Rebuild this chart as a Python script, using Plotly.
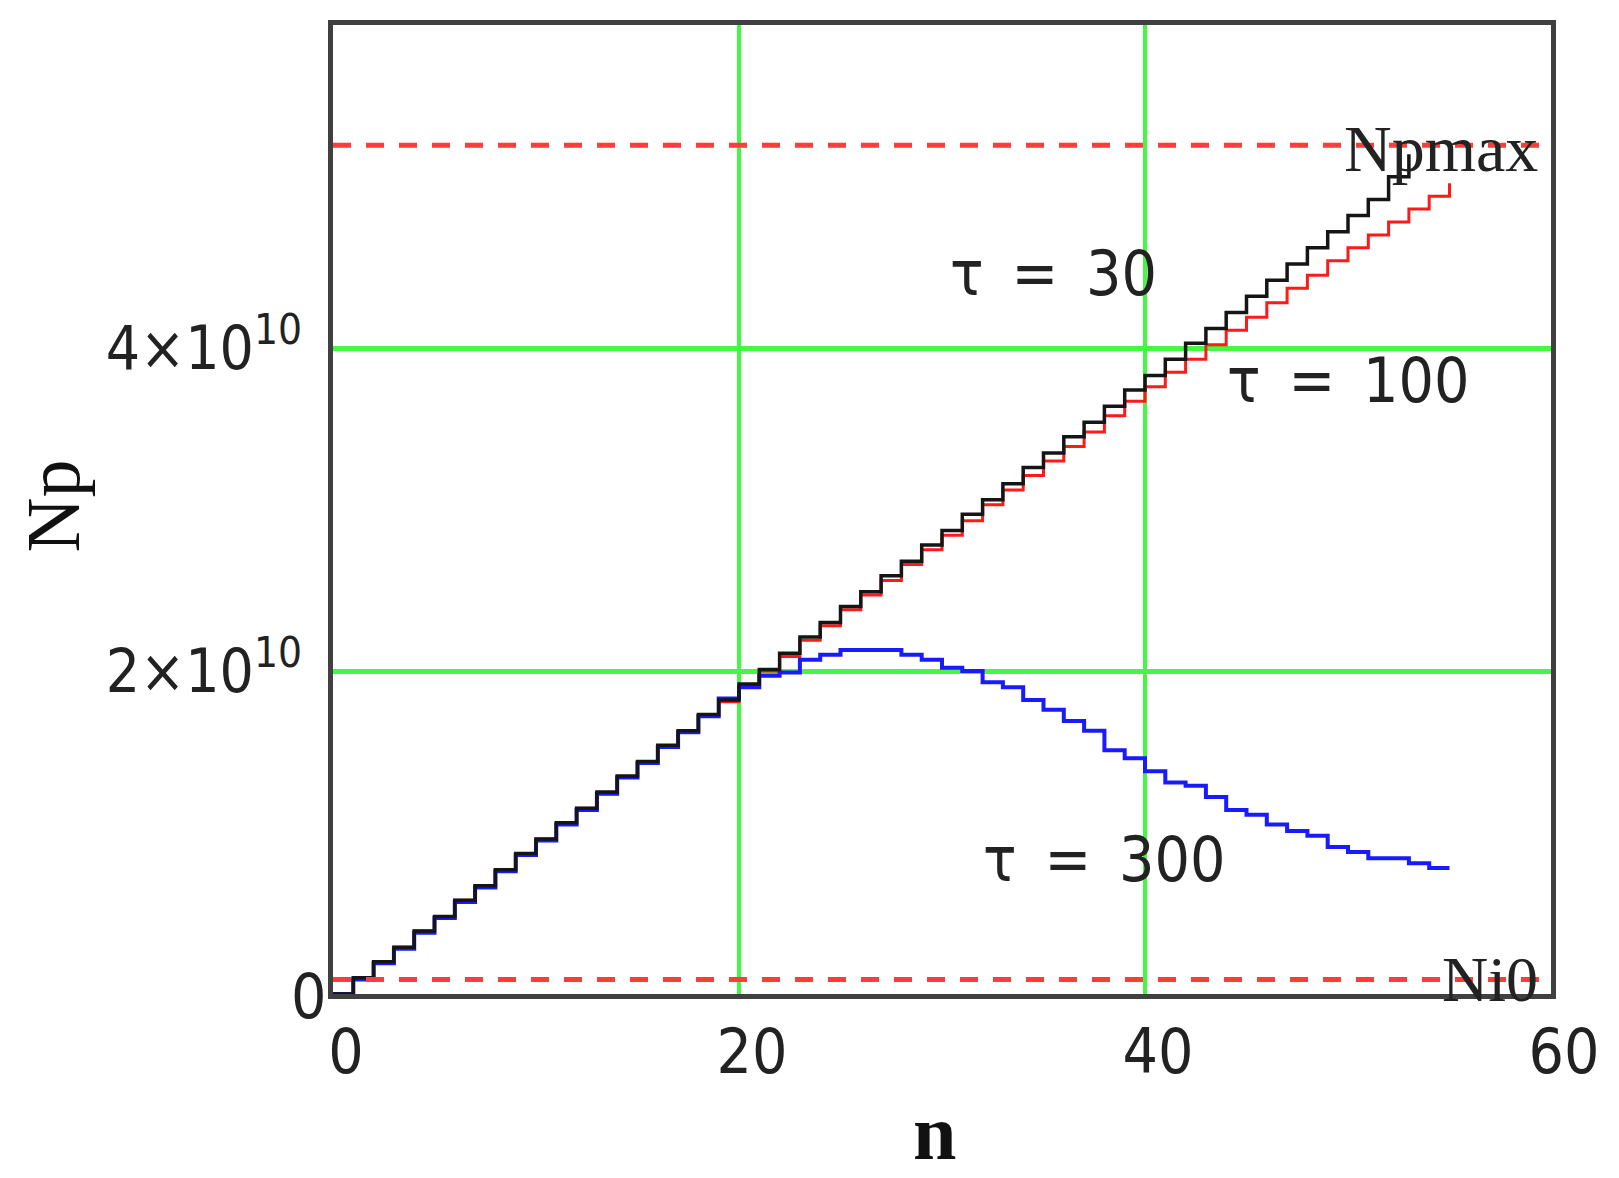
import plotly.graph_objects as go

# ---- data (values in units of 1e10) ----
n_tau30 = list(range(0, 54))
np_tau30 = [0.00, 0.10, 0.20, 0.29, 0.39, 0.48, 0.58, 0.67, 0.77, 0.87,
            0.96, 1.06, 1.15, 1.25, 1.35, 1.44, 1.54, 1.63, 1.73, 1.82,
            1.92, 2.01, 2.11, 2.21, 2.30, 2.40, 2.49, 2.59, 2.68, 2.78,
            2.87, 2.97, 3.06, 3.16, 3.26, 3.35, 3.45, 3.54, 3.64, 3.74,
            3.83, 3.93, 4.03, 4.12, 4.22, 4.32, 4.42, 4.52, 4.62, 4.72,
            4.82, 4.92, 5.06, 5.20]

n_tau100 = list(range(0, 56))
np_tau100 = [0.00, 0.10, 0.20, 0.29, 0.39, 0.48, 0.58, 0.67, 0.77, 0.86,
             0.96, 1.05, 1.15, 1.24, 1.34, 1.43, 1.53, 1.62, 1.72, 1.81,
             1.91, 2.00, 2.09, 2.19, 2.28, 2.38, 2.47, 2.56, 2.66, 2.75,
             2.84, 2.93, 3.03, 3.12, 3.21, 3.30, 3.39, 3.48, 3.58, 3.67,
             3.76, 3.85, 3.93, 4.02, 4.11, 4.19, 4.28, 4.37, 4.45, 4.54,
             4.62, 4.70, 4.78, 4.86, 4.94, 5.02]

n_tau300 = list(range(0, 56))
np_tau300 = [0.00, 0.09, 0.19, 0.28, 0.38, 0.47, 0.57, 0.66, 0.76, 0.86,
             0.95, 1.05, 1.14, 1.24, 1.34, 1.43, 1.53, 1.62, 1.72, 1.83,
             1.90, 1.97, 1.99, 2.07, 2.10, 2.13, 2.13, 2.13, 2.10, 2.07,
             2.02, 2.00, 1.93, 1.90, 1.82, 1.76, 1.69, 1.63, 1.51, 1.46,
             1.38, 1.31, 1.29, 1.22, 1.14, 1.11, 1.05, 1.01, 0.98, 0.91,
             0.88, 0.84, 0.84, 0.81, 0.78, 0.78]

Np_max = 5.255   # upper reference level (1e10)
Ni0 = 0.09       # lower reference level (1e10)
SCALE = 1e10

x_ticks = [0, 20, 40, 60]
x_tick_text = ["0", "20", "40", "60"]
y_ticks = [2, 4]
y_tick_text = ["2×10<sup>10</sup>", "4×10<sup>10</sup>"]
y_zero_label = "0"

tau_labels = ["τ\u2002=\u200230", "τ\u2002=\u2002100", "τ\u2002=\u2002300"]

GREEN = "#45f745"
SERIF = "Liberation Serif, Times New Roman, serif"
NARROW = "Liberation Sans Narrow, Arial Narrow, DejaVu Sans Condensed, sans-serif"

fig = go.Figure()
fig.add_trace(go.Scatter(x=n_tau100, y=[v * SCALE for v in np_tau100], mode="lines",
                         line=dict(color="#ff1a1a", width=3, shape="hv"), name="τ=100"))
fig.add_trace(go.Scatter(x=n_tau300, y=[v * SCALE for v in np_tau300], mode="lines",
                         line=dict(color="#1a1aff", width=4, shape="hv"), name="τ=300"))
fig.add_trace(go.Scatter(x=n_tau30, y=[v * SCALE for v in np_tau30], mode="lines",
                         line=dict(color="#151515", width=3.5, shape="hv"), name="τ=30"))

for lvl in (Np_max, Ni0):
    fig.add_shape(type="line", xref="x", yref="y", x0=0, x1=60,
                  y0=lvl * SCALE, y1=lvl * SCALE,
                  line=dict(color="#ff3b3b", width=5, dash="18px,15px"), layer="above")

ann = []
ann.append(dict(x=59.45, y=Np_max * SCALE, xref="x", yref="y", text="Npmax",
                xanchor="right", yanchor="middle", showarrow=False, yshift=-3,
                font=dict(family=SERIF, size=66, color="#222")))
ann.append(dict(x=59.45, y=Ni0 * SCALE, xref="x", yref="y", text="Ni0",
                xanchor="right", yanchor="middle", showarrow=False,
                font=dict(family=SERIF, size=64, color="#222")))
tau_pos = [(35.5, 4.46), (50.0, 3.80), (38.0, 0.83)]
for (tx, ty), t in zip(tau_pos, tau_labels):
    ann.append(dict(x=tx, y=ty * SCALE, xref="x", yref="y", text=t,
                    xanchor="center", yanchor="middle", showarrow=False,
                    font=dict(family=NARROW, size=62, color="#222")))
# y-axis "0" label sits closer to the frame than the other y labels
ann.append(dict(x=0, y=0, xref="paper", yref="y", text=y_zero_label,
                xanchor="right", yanchor="middle", showarrow=False, xshift=-5, yshift=-2,
                font=dict(family=NARROW, size=62, color="#222")))
ann.append(dict(x=0.494, y=-0.143, xref="paper", yref="paper", text="<b>n</b>",
                xanchor="center", yanchor="middle", showarrow=False,
                font=dict(family=SERIF, size=78, color="#111")))
ann.append(dict(x=-0.230, y=0.504, xref="paper", yref="paper", text="Np",
                xanchor="center", yanchor="middle", showarrow=False, textangle=-90,
                font=dict(family=SERIF, size=76, color="#111")))

fig.update_layout(
    width=1611, height=1170,
    margin=dict(l=325, r=68, t=15, b=184, pad=0),
    paper_bgcolor="white", plot_bgcolor="white",
    showlegend=False,
    annotations=ann,
    xaxis=dict(range=[0, 60], tickvals=x_ticks, ticktext=x_tick_text,
               showgrid=True, gridcolor=GREEN, gridwidth=3.5,
               showline=True, mirror=True, linecolor="#404040", linewidth=5,
               zeroline=False, ticks="", ticklabelstandoff=0, ticklabelshift=13,
               tickfont=dict(family=NARROW, size=62, color="#222")),
    yaxis=dict(range=[0, 6e10], tickvals=[v * SCALE for v in y_ticks], ticktext=y_tick_text,
               showgrid=True, gridcolor=GREEN, gridwidth=5,
               showline=True, mirror=True, linecolor="#404040", linewidth=5,
               zeroline=False, ticks="", ticklabelstandoff=14,
               tickfont=dict(family=NARROW, size=60, color="#222")),
)

fig.write_html("out.html")
